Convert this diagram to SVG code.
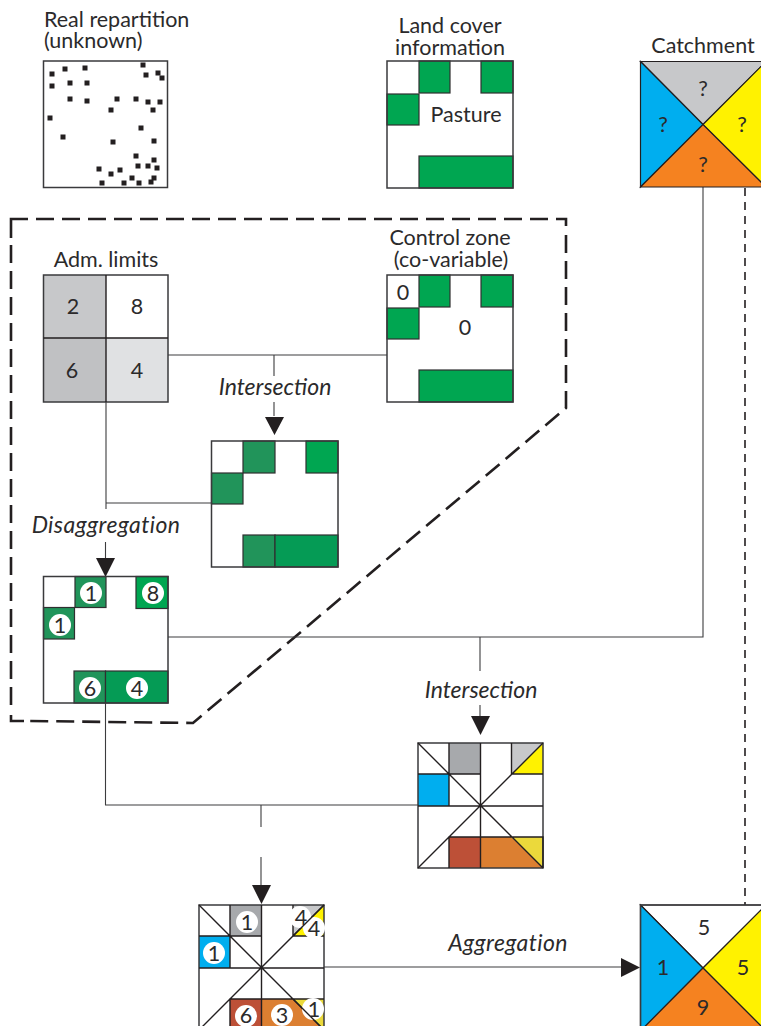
<svg xmlns="http://www.w3.org/2000/svg" width="761" height="1026" viewBox="0 0 761 1026">
<style>
text{font-family:"Lato","Noto Sans",sans-serif;font-size:21.500px;fill:#2b2a2b}
.m{text-anchor:middle}
text.i{font-style:italic;font-size:23px}
text.sp{letter-spacing:.4px}
.box{fill:none;stroke:#3a3a3c;stroke-width:1.5}
.cell{stroke:#2f2f30;stroke-width:1.2}
.g1{fill:#00a651}.g2{fill:#21945a}.g3{fill:#059b55}
.ln{fill:none;stroke:#3c3c3e;stroke-width:1.1}
.tk{fill:none;stroke:#231f20;stroke-width:1.4}
.dash{fill:none;stroke:#231f20;stroke-width:2.6;stroke-dasharray:18 8}
.solid{fill:none;stroke:#231f20;stroke-width:2.6}
.dot{fill:#231f20}
.c{fill:#fff}
.tri{stroke:#231f20;stroke-width:1.2}
</style>
<defs><rect id="d" x="-2.5" y="-2.5" width="5" height="5" class="dot"/></defs>
<rect width="761" height="1026" fill="#fff"/>

<g id="connectors">
<path class="solid" d="M11 238V219H28M11 715V721H24"/>
<path class="dash" d="M36 219H566V226"/>
<path class="dash" d="M566 235V408L193 723L30 721"/>
<path class="dash" d="M11 245V710"/>
<path class="ln" d="M168 355H387M274 355V376M274 402V416M106 402V509M106 503H212M105.500 542V558M168 637H703V187M480 637V671M480 705V716M105.500 703V805H418M261 805V827M261 857V885M324 967H621"/>
<path d="M745 188V905" fill="none" stroke="#231f20" stroke-width="1.6" stroke-dasharray="8 6"/>
<path class="dot" d="M265 417H284L274.500 435ZM96 558H115L105.500 577ZM471 716H490L480.500 735ZM252 885H271L261.500 904ZM621 958L640 967.500L621 977Z"/>
</g>

<g id="real-repartition">
<text x="44" y="27">Real repartition</text><text x="44" y="48">(unknown)</text>
<rect class="box" x="43.500" y="61" width="124" height="126.500"/>
<g>
<use href="#d" x="52" y="74"/><use href="#d" x="65" y="69"/><use href="#d" x="85" y="68"/><use href="#d" x="143" y="65"/><use href="#d" x="146" y="75"/><use href="#d" x="158" y="73"/><use href="#d" x="162" y="78"/><use href="#d" x="52" y="86"/><use href="#d" x="70" y="83"/><use href="#d" x="87" y="83"/><use href="#d" x="70" y="99"/><use href="#d" x="87" y="101"/><use href="#d" x="117" y="99"/><use href="#d" x="136" y="99"/><use href="#d" x="148" y="102"/><use href="#d" x="160" y="102"/><use href="#d" x="111" y="110"/><use href="#d" x="153" y="110"/><use href="#d" x="50" y="118"/><use href="#d" x="141" y="128"/><use href="#d" x="63" y="137"/><use href="#d" x="113" y="142"/><use href="#d" x="154" y="141"/><use href="#d" x="136" y="156"/><use href="#d" x="154" y="160"/><use href="#d" x="138" y="166"/><use href="#d" x="148" y="166"/><use href="#d" x="157" y="168"/><use href="#d" x="99" y="169"/><use href="#d" x="120" y="170"/><use href="#d" x="111" y="174"/><use href="#d" x="132" y="178"/><use href="#d" x="154" y="178"/><use href="#d" x="102" y="183"/><use href="#d" x="124" y="183"/><use href="#d" x="139" y="183"/><use href="#d" x="151" y="182"/>
</g>
</g>

<g id="land-cover">
<text class="m" x="450" y="33">Land cover</text><text class="m" x="450" y="55">information</text>
<rect class="cell g1" x="419" y="61" width="31" height="32"/>
<rect class="cell g1" x="481" y="61" width="32" height="32"/>
<rect class="cell g1" x="387" y="94" width="32" height="31"/>
<rect class="cell g1" x="419" y="156" width="94" height="32"/>
<rect class="box" x="387" y="61" width="126" height="127"/>
<text class="m" x="466" y="122">Pasture</text>
</g>

<g id="catchment">
<text class="m" x="703" y="53">Catchment</text>
<path class="tri" fill="#c7c8ca" d="M640.500 61.500H766L703 124.500Z"/>
<path class="tri" fill="#00aeef" d="M640.500 61.500V187L703 124.500Z"/>
<path class="tri" fill="#fff200" d="M766 61.500V187L703 124.500Z"/>
<path class="tri" fill="#f58220" d="M640.500 187H766L703 124.500Z"/>
<text class="m" x="703" y="96">?</text><text class="m" x="663" y="132">?</text><text class="m" x="742" y="132">?</text><text class="m" x="703" y="172">?</text>
</g>

<g id="adm-limits">
<text class="m" x="106" y="267">Adm. limits</text>
<rect x="43.500" y="275" width="62.500" height="63" fill="#c7c8ca"/>
<rect x="43.500" y="338" width="62.500" height="64" fill="#c0c1c3"/>
<rect x="106" y="338" width="62" height="64" fill="#e0e1e3"/>
<rect class="box" x="43.500" y="275" width="124.500" height="127"/>
<path class="tk" d="M43.500 338H168M106 275V402"/>
<text class="m" x="73" y="314">2</text><text class="m" x="137" y="314">8</text><text class="m" x="72" y="378">6</text><text class="m" x="137" y="378">4</text>
</g>

<g id="control-zone">
<text class="m" x="450" y="245">Control zone</text><text class="m" x="451" y="267">(co-variable)</text>
<rect class="cell g1" x="419" y="275" width="31" height="32"/>
<rect class="cell g1" x="481" y="275" width="32" height="32"/>
<rect class="cell g1" x="387" y="308" width="32" height="31"/>
<rect class="cell g1" x="419" y="370" width="94" height="32"/>
<rect class="box" x="387" y="275" width="126" height="127"/>
<text class="m" x="403" y="300">0</text><text class="m" x="465" y="335">0</text>
</g>

<g id="intersection-1">
<text class="m i" x="275" y="395">Intersection</text>
<rect class="cell g2" x="243" y="441" width="32" height="32"/>
<rect class="cell g1" x="306" y="441" width="32" height="32"/>
<rect class="cell g2" x="211.500" y="473" width="31.500" height="31"/>
<rect class="cell g2" x="243" y="535" width="32" height="32"/>
<rect class="cell g3" x="275" y="535" width="63" height="32"/>
<rect class="box" x="211.500" y="441" width="126.500" height="126"/>
</g>

<g id="disaggregation">
<text class="m i sp" x="106" y="533">Disaggregation</text>
<rect class="cell g2" x="75" y="576.500" width="31" height="31"/>
<rect class="cell g1" x="136" y="576.500" width="32" height="32"/>
<rect class="cell g2" x="43.500" y="607.500" width="31" height="31.500"/>
<rect class="cell g2" x="74" y="671" width="31.500" height="32"/>
<rect class="cell g3" x="105.500" y="671" width="62.500" height="32"/>
<rect class="box" x="43.500" y="576.500" width="124.500" height="126.500"/>
<circle class="c" cx="91" cy="593" r="11"/><circle class="c" cx="153" cy="593" r="11"/><circle class="c" cx="60" cy="625" r="11"/><circle class="c" cx="90" cy="688" r="11"/><circle class="c" cx="137" cy="688" r="11"/>
<text class="m" x="91" y="601">1</text><text class="m" x="153" y="601">8</text><text class="m" x="60" y="633">1</text><text class="m" x="90" y="696">6</text><text class="m" x="137" y="696">4</text>
</g>

<g id="intersection-2">
<text class="m i" x="481" y="698">Intersection</text>
<rect x="449" y="743" width="31" height="31" fill="#a7a9ac"/>
<rect x="511.500" y="743" width="31.500" height="31" fill="#c7c8ca"/>
<path d="M543 743V774H511.500Z" fill="#fff200"/>
<rect x="418" y="774" width="31" height="32" fill="#00aeef"/>
<rect x="449" y="837" width="31" height="31" fill="#bd5037"/>
<path d="M480 837H511.500L543 868H480Z" fill="#dc7f31"/>
<path d="M511.500 837H543V868Z" fill="#ebd93b"/>
<rect class="box" x="418" y="743" width="125" height="125"/>
<path class="tk" d="M418 743L543 868M543 743L418 868M480.500 743V868M418 806H543M449 743V806M418 774H480.500M511.500 743V774H543M449 868V837H543V868"/>
</g>

<g id="aggregated-grid">
<text class="m i sp" x="508" y="951">Aggregation</text>
<rect x="230" y="905" width="31" height="31" fill="#a7a9ac"/>
<rect x="293" y="905" width="31" height="31" fill="#c7c8ca"/>
<path d="M324 905V936H293Z" fill="#fff200"/>
<rect x="199" y="936" width="31" height="32" fill="#00aeef"/>
<rect x="230" y="999" width="31" height="31" fill="#bd5037"/>
<path d="M261 999H293L324 1030H261Z" fill="#dc7f31"/>
<path d="M293 999H324V1030Z" fill="#ebd93b"/>
<rect class="box" x="199" y="905" width="125" height="125"/>
<path class="tk" d="M199 905L324 1030M324 905L199 1030M261.500 905V1030M199 968H324M230 905V968M199 936H261.500M293 905V936H324M230 1030V999H324"/>
<circle class="c" cx="247" cy="922" r="11"/><circle class="c" cx="214" cy="953" r="11"/><circle class="c" cx="300" cy="917" r="11"/><circle class="c" cx="314" cy="928" r="11"/><circle class="c" cx="246" cy="1016" r="11"/><circle class="c" cx="282" cy="1015" r="11"/><circle class="c" cx="313" cy="1009" r="11"/>
<path class="tk" d="M324 905L293 936M293 999L324 1030"/>
<text class="m" x="247" y="930">1</text><text class="m" x="214" y="961">1</text><text class="m" x="301" y="925">4</text><text class="m" x="314" y="936">4</text><text class="m" x="246" y="1023">6</text><text class="m" x="282" y="1023">3</text><text class="m" x="314" y="1017">1</text>
</g>

<g id="result-catchment">
<path class="tri" fill="#fff" d="M640.500 905H766L703 968Z"/>
<path class="tri" fill="#00aeef" d="M640.500 905V1031L703 968Z"/>
<path class="tri" fill="#fff200" d="M766 905V1031L703 968Z"/>
<path class="tri" fill="#f58220" d="M640.500 1031H766L703 968Z"/>
<path class="box" d="M761 905H640.500V1026"/>
<text class="m" x="704" y="935">5</text><text class="m" x="663" y="975">1</text><text class="m" x="743" y="975">5</text><text class="m" x="703" y="1015">9</text>
</g>
</svg>
